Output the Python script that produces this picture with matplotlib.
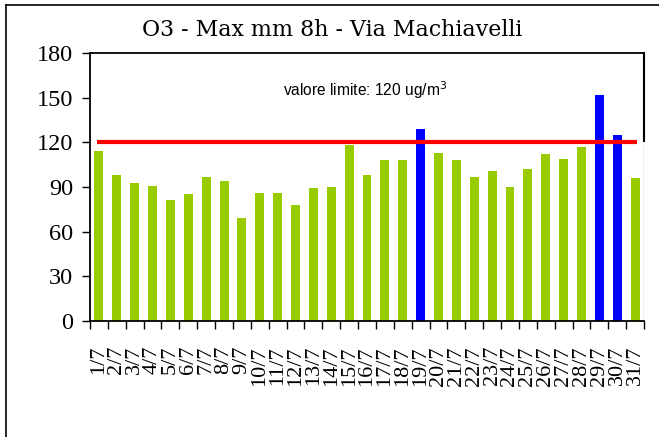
import matplotlib
matplotlib.use("Agg")
from matplotlib import pyplot as plt
from matplotlib.lines import Line2D
import numpy as np

days = [f"{d}/7" for d in range(1, 32)]
o3 = [114, 98, 93, 91, 81, 85, 97, 94, 69, 86, 86, 78, 89, 90, 118, 98,
      108, 108, 129, 113, 108, 97, 101, 90, 102, 112, 109, 117, 152, 125, 96]
limit = 120

colors = ['#0000ff' if v > limit else '#99cc00' for v in o3]
x = np.arange(len(days))

fig = plt.figure(figsize=(6.59, 4.37), dpi=100)
ax = fig.add_axes([90/659, 1-321/437, (644-90)/659, (321-53)/437])

ax.bar(x, o3, width=0.5, color=colors)
ax.hlines(limit, -0.12, 30.1, color='#ff0000', lw=3)

ax.set_xlim(-0.5, 30.5)
ax.set_ylim(0, 180)
ax.set_yticks(range(0, 181, 30))
ax.set_yticklabels([str(v) for v in range(0, 181, 30)], family='Liberation Serif', fontsize=17.5)
ax.tick_params(axis='y', length=6, width=1, pad=6)

ax.set_xticks(np.arange(-0.5, 31, 1), minor=True)
ax.set_xticks(x)
ax.set_xticklabels(days, rotation=90, family='Liberation Serif', fontsize=16)
ax.tick_params(axis='x', which='major', length=0, pad=18)
ax.tick_params(axis='x', which='minor', length=6, width=1)

ax.spines['right'].set_bounds(121, 180)
ax.axvline(30.5, 0, 121/180, color='#c0c0c0', lw=1)
for s in ['left', 'bottom', 'top']:
    ax.spines[s].set_linewidth(1.3)
ax.spines['right'].set_linewidth(1.5)

ax.text(14.9, 155, 'valore limite: 120 ug/m$^3$', ha='center', va='center',
        family='Liberation Sans', fontsize=11.2)

fig.text(0.504, 0.931, 'O3 - Max mm 8h - Via Machiavelli', ha='center', va='center',
         family='DejaVu Serif', fontsize=15.9)

# outer frame (only left and top visible)
fig.add_artist(Line2D([6/659, 6/659], [0, 1-5/437], color='black', lw=1.2))
fig.add_artist(Line2D([6/659, 1], [1-5/437, 1-5/437], color='black', lw=1.2))

fig.savefig('out.png', dpi=100)
